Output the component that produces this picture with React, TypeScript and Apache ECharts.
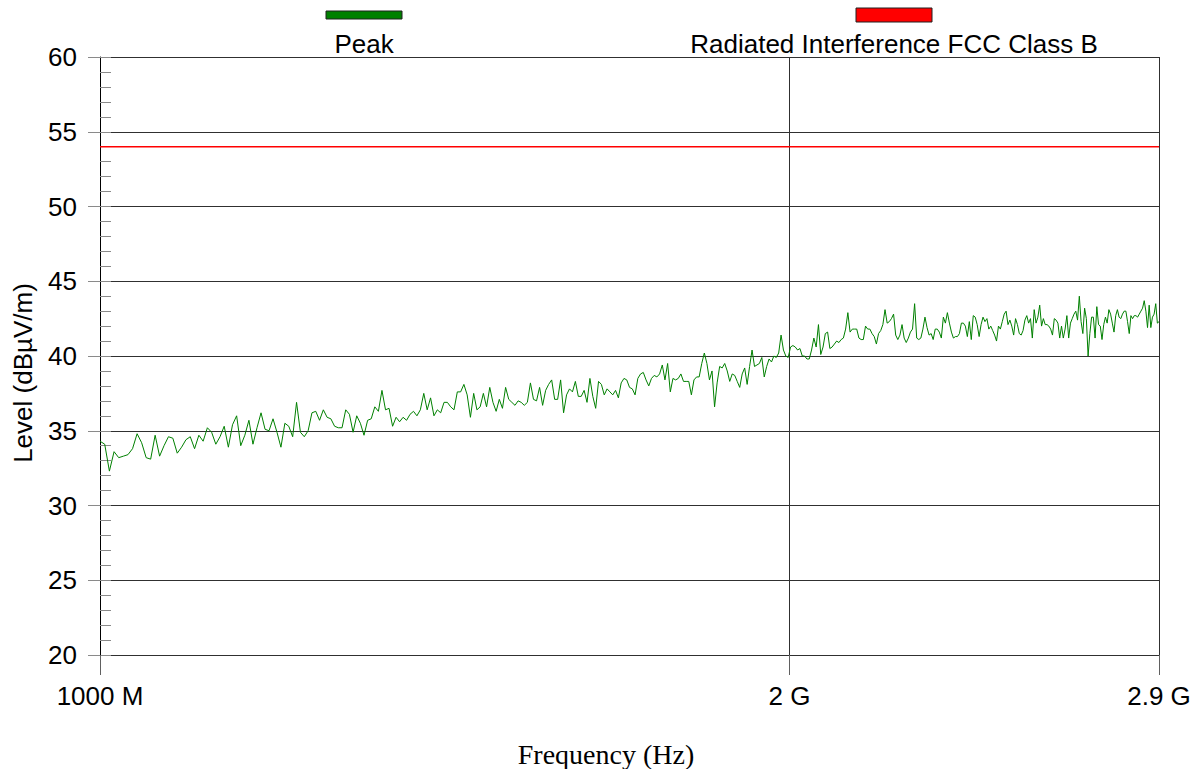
import { useEffect, useRef } from "react";
import * as echarts from "echarts";

// Receiver sweep: 401 points from 1000 MHz to 2900 MHz
const SWEEP_START_MHZ = 1000;
const SWEEP_STEP_MHZ = 4.75;

// Peak detector trace, dBµV/m, one value per sweep point
const peakLevels = [
  34.3, 34.1, 32.3, 33.6, 33.2, 33.3, 33.4, 33.8, 34.8, 34.2,
  33.2, 33.1, 34.7, 33.3, 34.0, 34.6, 34.5, 33.5, 33.9, 34.4,
  34.6, 33.8, 34.7, 34.3, 35.2, 34.9, 34.1, 34.6, 35.3, 33.9,
  35.4, 36.0, 34.0, 34.7, 35.7, 34.1, 35.2, 36.2, 35.1, 35.0,
  35.8, 34.9, 33.9, 35.5, 35.3, 34.6, 36.9, 34.9, 34.6, 35.0,
  36.2, 36.3, 35.7, 36.4, 35.9, 35.8, 35.3, 35.2, 35.2, 36.4,
  36.1, 34.9, 36.0, 35.5, 34.7, 35.7, 35.8, 36.6, 36.3, 37.7,
  36.4, 36.5, 35.3, 35.9, 35.6, 35.9, 35.7, 36.1, 36.3, 36.0,
  36.4, 37.5, 36.4, 37.2, 36.0, 36.4, 36.2, 36.9, 36.9, 36.6,
  36.4, 37.6, 37.6, 38.1, 37.4, 35.9, 37.5, 36.4, 36.6, 37.5,
  36.6, 37.9, 36.9, 36.3, 37.1, 36.5, 37.9, 37.1, 36.9, 36.7,
  37.0, 36.9, 36.7, 36.9, 38.2, 37.1, 37.0, 37.9, 36.7, 37.7,
  38.1, 38.4, 37.1, 37.1, 38.4, 36.2, 37.4, 37.8, 37.6, 38.3,
  37.3, 37.3, 37.7, 36.9, 38.5, 37.3, 36.5, 38.3, 38.1, 37.4,
  37.8, 37.6, 37.4, 37.7, 37.2, 38.2, 38.5, 38.4, 37.9, 37.8,
  37.4, 38.5, 38.8, 38.9, 38.4, 38.0, 38.5, 38.7, 38.6, 38.8,
  39.4, 38.4, 39.5, 37.6, 38.5, 38.4, 38.5, 38.8, 38.3, 38.3,
  38.3, 37.4, 38.4, 38.6, 38.6, 39.5, 40.2, 39.5, 38.4, 39.0,
  36.6, 38.2, 39.3, 39.2, 39.5, 39.0, 38.3, 38.8, 38.7, 38.3,
  37.9, 38.8, 39.2, 38.1, 39.3, 40.4, 39.3, 39.4, 39.5, 39.9,
  38.6, 39.3, 39.8, 39.6, 40.0, 39.9, 40.2, 41.4, 40.4, 40.0,
  39.9, 40.6, 40.7, 40.6, 40.4, 40.5, 40.0, 40.0, 39.8, 39.8,
  40.4, 41.2, 40.6, 42.1, 40.1, 40.6, 41.5, 41.6, 40.5, 40.6,
  40.8, 41.0, 40.9, 41.1, 41.2, 41.8, 42.9, 41.6, 41.8, 41.8,
  41.8, 41.2, 41.1, 41.1, 42.0, 41.8, 41.8, 41.5, 41.3, 40.8,
  41.5, 41.7, 42.1, 43.1, 42.2, 42.3, 42.5, 42.8, 41.4, 41.1,
  41.4, 42.1, 41.2, 40.9, 41.2, 41.6, 41.8, 43.5, 41.2, 41.1,
  41.2, 41.8, 42.6, 41.9, 41.4, 41.5, 41.1, 41.8, 41.8, 41.6,
  41.2, 42.6, 42.2, 42.9, 42.2, 41.6, 41.2, 41.3, 41.3, 41.5,
  42.2, 42.2, 42.0, 41.3, 42.3, 41.1, 42.7, 42.6, 42.1, 41.3,
  42.1, 42.6, 42.3, 42.5, 41.8, 42.0, 41.7, 41.4, 41.0, 42.0,
  41.8, 42.3, 42.8, 43.0, 42.1, 42.4, 42.0, 41.4, 42.5, 42.1,
  41.5, 41.4, 41.7, 42.4, 42.7, 42.2, 42.5, 41.2, 43.1, 42.2,
  42.6, 43.4, 42.0, 42.5, 42.1, 42.1, 42.0, 41.8, 41.4, 42.5,
  42.4, 42.2, 41.2, 42.0, 41.2, 41.8, 42.7, 41.2, 42.2, 42.5,
  42.8, 43.0, 42.4, 44.0, 42.3, 41.5, 43.2, 42.5, 40.0, 41.5,
  42.6, 42.6, 41.2, 43.3, 42.1, 42.0, 41.1, 42.1, 42.6, 42.2,
  43.1, 42.8, 42.2, 41.6, 42.7, 43.1, 42.6, 42.5, 42.8, 43.0,
  43.0, 42.3, 41.5, 42.7, 42.5, 42.7, 42.7, 42.6, 42.8, 43.0,
  43.2, 43.7, 43.0, 41.9, 43.4, 41.9, 42.6, 42.8, 43.5, 42.2,
  42.3,
];

// FCC Class B radiated limit over the band
const limitFreqsMHz = [1000, 2900];
const limitLevels = [54, 54];

// Frequency axis ticks (MHz) and their labels
const xTickValues = [1000, 2000, 2900];
const xTickLabels = ["1000 M", "2 G", "2.9 G"];

const Y_MIN = 20;
const Y_MAX = 60;
const Y_MAJOR = 5;
const Y_MINOR = 1;

const SANS = "'Liberation Sans', Arial, sans-serif";
const SERIF = "'Liberation Serif', 'Times New Roman', serif";

export default function App() {
  const ref = useRef<HTMLDivElement>(null);

  useEffect(() => {
    if (!ref.current) return;
    const chart = echarts.init(ref.current, undefined, { renderer: "svg" });

    const peakData = peakLevels.map((v, i) => [SWEEP_START_MHZ + i * SWEEP_STEP_MHZ, v]);
    const limitData = limitFreqsMHz.map((f, i) => [f, limitLevels[i]]);

    const tickLabel = (v: number) => {
      let best = 0;
      for (let i = 1; i < xTickValues.length; i++) {
        if (Math.abs(xTickValues[i] - v) < Math.abs(xTickValues[best] - v)) best = i;
      }
      return xTickLabels[best];
    };

    chart.setOption({
      animation: false,
      backgroundColor: "#ffffff",
      grid: { left: 100, right: 41, top: 57, bottom: 114, containLabel: false },
      xAxis: {
        type: "log",
        logBase: 10,
        min: 1000,
        max: 2900,
        axisLine: { show: true, lineStyle: { color: "#303030", width: 1 } },
        axisTick: {
          show: true,
          customValues: xTickValues,
          length: 20,
          lineStyle: { color: "#606060", width: 1 },
        },
        axisLabel: {
          show: true,
          customValues: xTickValues,
          formatter: (v: number) => tickLabel(v),
          fontSize: 26,
          fontFamily: SANS,
          color: "#000",
          margin: 28,
        },
        splitLine: { show: true, lineStyle: { color: "#303030", width: 1 } },
        minorTick: { show: false },
        minorSplitLine: { show: false },
      },
      yAxis: [
        {
          type: "value",
          position: "left",
          min: Y_MIN,
          max: Y_MAX,
          interval: Y_MAJOR,
          axisLine: { show: true, lineStyle: { color: "#000", width: 1 } },
          axisTick: { show: true, length: 12, lineStyle: { color: "#8a8a8a", width: 1 } },
          axisLabel: {
            fontSize: 26,
            fontFamily: SANS,
            color: "#000",
            margin: 23,
          },
          splitLine: { show: true, lineStyle: { color: "#303030", width: 1 } },
        },
        {
          type: "value",
          position: "left",
          min: Y_MIN,
          max: Y_MAX,
          interval: Y_MINOR,
          axisLine: { show: false },
          axisTick: { show: true, inside: true, length: 11, lineStyle: { color: "#8a8a8a", width: 1 } },
          axisLabel: { show: false },
          splitLine: { show: false },
        },
      ],
      series: [
        {
          name: "Radiated Interference FCC Class B",
          type: "line",
          yAxisIndex: 0,
          data: limitData,
          showSymbol: false,
          lineStyle: { color: "#ff0000", width: 1.5 },
          z: 3,
        },
        {
          name: "Peak",
          type: "line",
          yAxisIndex: 0,
          data: peakData,
          showSymbol: false,
          lineStyle: { color: "#008000", width: 1 },
          z: 4,
        },
      ],
      graphic: [
        {
          type: "rect",
          shape: { x: 326, y: 11, width: 76, height: 8 },
          style: { fill: "#008000", stroke: "#202020", lineWidth: 1 },
        },
        {
          type: "text",
          x: 364,
          y: 44,
          style: {
            text: "Peak",
            fontSize: 26,
            fontFamily: SANS,
            fill: "#000",
            align: "center",
            verticalAlign: "middle",
          },
        },
        {
          type: "rect",
          shape: { x: 856, y: 8, width: 76, height: 14 },
          style: { fill: "#ff0000", stroke: "#202020", lineWidth: 1 },
        },
        {
          type: "text",
          x: 894,
          y: 44,
          style: {
            text: "Radiated Interference FCC Class B",
            fontSize: 26,
            fontFamily: SANS,
            fill: "#000",
            align: "center",
            verticalAlign: "middle",
          },
        },
        {
          type: "text",
          x: 23,
          y: 373,
          rotation: Math.PI / 2,
          style: {
            text: "Level (dBµV/m)",
            fontSize: 26,
            fontFamily: SANS,
            fill: "#000",
            align: "center",
            verticalAlign: "middle",
          },
        },
        {
          type: "text",
          x: 606,
          y: 754,
          style: {
            text: "Frequency (Hz)",
            fontSize: 28,
            fontFamily: SERIF,
            fill: "#000",
            align: "center",
            verticalAlign: "middle",
          },
        },
      ],
    });

    return () => chart.dispose();
  }, []);

  return (
    <div
      ref={ref}
      style={{ position: "fixed", left: 0, top: 0, width: 1200, height: 769, background: "#fff" }}
    />
  );
}
